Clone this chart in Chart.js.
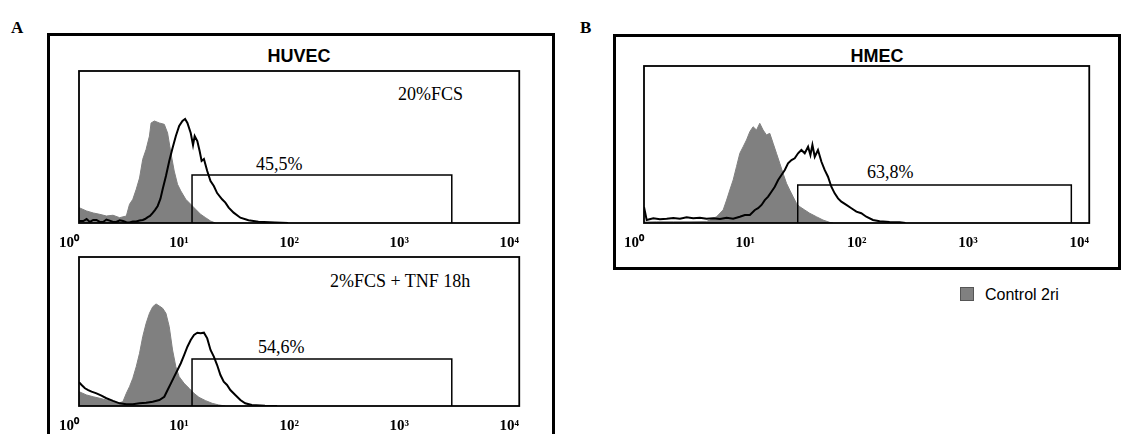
<!DOCTYPE html>
<html><head><meta charset="utf-8">
<script src="https://cdn.jsdelivr.net/npm/chart.js@4.4.1/dist/chart.umd.min.js"></script>
<style>
html,body{margin:0;padding:0;background:#fff;}
body{width:1123px;height:434px;position:relative;overflow:hidden;}
.abs{position:absolute;white-space:nowrap;line-height:1;color:#000;}
.serif{font-family:"Liberation Serif","Times New Roman",serif;}
.sans{font-family:"Liberation Sans",Arial,sans-serif;}
.frame{position:absolute;border:3px solid #000;box-sizing:border-box;}
canvas{position:absolute;}
</style></head><body>

<div class="frame" style="left:47px;top:33px;width:508px;height:420px;"></div>
<div class="frame" style="left:613px;top:34px;width:508px;height:236px;"></div>

<div class="abs serif" style="left:11px;top:19px;font-size:17px;font-weight:bold;">A</div>
<div class="abs serif" style="left:580px;top:19px;font-size:17px;font-weight:bold;">B</div>

<div class="abs sans" style="left:299px;top:47px;font-size:18px;font-weight:bold;transform:translateX(-50%);">HUVEC</div>
<div class="abs sans" style="left:877px;top:47px;font-size:18px;font-weight:bold;transform:translateX(-50%);">HMEC</div>

<div class="abs serif" style="left:398px;top:85px;font-size:18px;">20%FCS</div>
<div class="abs serif" style="left:256px;top:155px;font-size:18px;">45,5%</div>
<div class="abs serif" style="left:330px;top:272px;font-size:18px;">2%FCS + TNF 18h</div>
<div class="abs serif" style="left:258px;top:338px;font-size:18px;">54,6%</div>
<div class="abs serif" style="left:867px;top:163px;font-size:18px;">63,8%</div>

<div class="abs" style="left:960px;top:287px;width:14px;height:14px;background:#808080;border:1px solid #555;box-sizing:border-box;"></div>
<div class="abs sans" style="left:985px;top:287px;font-size:16px;">Control 2ri</div>

<canvas id="c1" width="500" height="195" style="left:40px;top:60px;"></canvas>
<canvas id="c2" width="500" height="195" style="left:40px;top:245px;"></canvas>
<canvas id="c3" width="510" height="200" style="left:600px;top:55px;"></canvas>

<script>
// x values: fluorescence intensity in decades (10^x); y values: % of panel height (cell count)
const tickLabels = ['10\u2070','10\u00B9','10\u00B2','10\u00B3','10\u2074'];

// Panel A, HUVEC 20%FCS
const p1CtrlX = [0,0.069,0.129,0.189,0.249,0.309,0.369,0.43,0.459,0.489,0.52,0.55,0.579,0.61,0.64,0.655,0.685,0.73,0.775,0.805,0.835,0.865,0.895,0.925,0.97,1.015,1.06,1.105,1.15,1.195,1.24];
const p1CtrlY = [10.1,7.9,6.6,5.7,4.6,5.1,3.5,4.6,12.3,15.6,22.2,29.6,41.9,48.5,57.2,65.8,67.1,65.8,64.9,59.2,46.1,34.2,25.5,21.1,15.6,12.3,9.0,5.7,3.5,1.3,0];
const p1SmpX = [0,0.039,0.069,0.099,0.129,0.159,0.189,0.219,0.249,0.279,0.309,0.339,0.37,0.4,0.43,0.459,0.49,0.52,0.55,0.579,0.6,0.625,0.645,0.67,0.69,0.715,0.74,0.76,0.79,0.82,0.85,0.88,0.91,0.94,0.964,0.985,1.015,1.036,1.051,1.075,1.096,1.114,1.135,1.165,1.195,1.225,1.255,1.3,1.33,1.36,1.405,1.466,1.54,1.63,1.78,1.9];
const p1SmpY = [1.3,1.3,2.6,0.7,2.0,2.0,0.7,0.7,2.3,1.6,0.7,0.7,1.8,1.3,0.5,0.3,1.0,1.0,1.6,2.0,2.6,3.9,4.6,6.6,8.5,11.2,16.0,22.2,30.9,40.8,49.3,57.2,63.8,67.1,68.4,65.8,59.2,51.3,57.2,53.9,47.4,40.8,42.1,34.2,27.6,24.3,19.7,15.6,13.4,10.1,6.8,3.5,1.8,0.9,0.3,0];
const p1Gate = [1.027, 3.387, 31.6];

// Panel A, HUVEC 2%FCS + TNF 18h
const p2CtrlX = [0,0.069,0.129,0.189,0.249,0.309,0.369,0.399,0.43,0.459,0.489,0.52,0.55,0.579,0.61,0.64,0.67,0.7,0.73,0.76,0.79,0.82,0.85,0.88,0.91,0.955,1.0,1.045,1.09,1.15,1.21,1.27,1.33];
const p2CtrlY = [9.6,7.4,6.2,5.2,4.0,2.9,2.2,2.9,8.5,13.0,18.6,26.4,35.4,46.5,55.5,62.2,66.6,68.5,67.1,65.6,62.2,53.2,37.6,26.4,19.7,15.2,11.9,8.5,5.8,3.6,1.8,0.7,0];
const p2SmpX = [0,0.024,0.054,0.084,0.114,0.159,0.204,0.249,0.309,0.369,0.43,0.489,0.55,0.61,0.67,0.73,0.775,0.805,0.835,0.865,0.895,0.925,0.955,0.985,1.015,1.045,1.075,1.105,1.135,1.165,1.195,1.225,1.255,1.285,1.315,1.345,1.375,1.42,1.466,1.51,1.57,1.69,1.8];
const p2SmpY = [16,14.1,11.9,10.7,9.6,8.5,6.9,5.2,3.4,1.8,1.1,1.1,1.8,2.2,2.9,4.0,6.2,10.7,15.2,19.7,24.2,28.7,34.2,39.8,44.3,47.7,49.2,48.8,49.2,45.4,37.6,33.1,27.5,20.8,16.3,14.1,10.7,7.4,4.0,1.8,0.7,0.2,0];
const p2Gate = [1.027, 3.387, 31.5];

// Panel B, HMEC
const pbCtrlX = [0,0.114,0.263,0.413,0.562,0.592,0.652,0.711,0.742,0.771,0.801,0.831,0.861,0.891,0.921,0.951,0.98,1.011,1.04,1.07,1.1,1.13,1.16,1.19,1.22,1.249,1.28,1.309,1.339,1.37,1.399,1.444,1.489,1.549,1.608,1.668,1.698];
const pbCtrlY = [0.6,0.8,0.8,0.8,1.0,1.9,4.0,8.3,14.6,21.0,27.4,35.9,44.4,48.6,52.9,58.2,61.3,59.2,63.5,59.2,56.1,57.1,50.8,44.4,38.0,31.7,25.3,21.0,16.8,12.5,10.4,8.3,6.2,4.0,1.9,0.4,0];
const pbSmpX = [0,0.024,0.084,0.143,0.204,0.263,0.323,0.383,0.442,0.502,0.562,0.622,0.682,0.742,0.801,0.861,0.906,0.951,0.996,1.025,1.056,1.085,1.115,1.145,1.175,1.205,1.235,1.265,1.294,1.325,1.354,1.384,1.414,1.444,1.474,1.495,1.513,1.534,1.563,1.594,1.623,1.653,1.683,1.713,1.743,1.773,1.818,1.863,1.908,1.952,1.997,2.057,2.117,2.206,2.296,2.35];
const pbSmpY = [10.2,1.9,3.0,2.4,2.7,3.2,2.7,3.6,3.0,3.4,2.7,3.0,2.5,3.4,2.7,4.0,5.1,5.1,8.3,9.4,11.5,14.6,16.8,19.9,23.1,27.4,30.6,33.8,38.0,40.1,41.2,44.4,46.5,44.4,48.6,43.3,49.7,42.2,46.5,39.0,33.8,29.5,23.1,18.9,15.7,13.6,11.5,9.4,7.2,6.2,4.0,1.9,1.1,0.6,0.4,0];
const pbGate = [1.381, 3.839, 24.2];

const pts = (xs, ys) => xs.map((x, i) => ({x: x, y: ys[i]}));
const gatePts = g => [{x:g[0],y:0},{x:g[0],y:g[2]},{x:g[1],y:g[2]},{x:g[1],y:0}];

const boxPlugin = {
  id: 'box',
  afterDatasetsDraw(chart) {
    const a = chart.chartArea, c = chart.ctx;
    c.save();
    c.strokeStyle = '#000';
    c.lineWidth = 1.8;
    c.strokeRect(a.left, a.top, a.right - a.left, a.bottom - a.top);
    c.restore();
  }
};

function makeHist(id, cx, cy, sx, sy, gate, pad) {
  new Chart(document.getElementById(id), {
    type: 'line',
    data: {
      datasets: [
        {label: 'sample', data: pts(sx, sy), borderColor: '#000', borderWidth: 2, pointRadius: 0, fill: false, tension: 0, order: 1},
        {label: 'gate', data: gatePts(gate), borderColor: '#000', borderWidth: 1.5, pointRadius: 0, fill: false, tension: 0, order: 2},
        {label: 'Control 2ri', data: pts(cx, cy), borderColor: '#808080', backgroundColor: '#808080', borderWidth: 1, pointRadius: 0, fill: 'origin', tension: 0, order: 3}
      ]
    },
    options: {
      responsive: false,
      animation: false,
      devicePixelRatio: 1,
      layout: {padding: pad},
      plugins: {legend: {display: false}, tooltip: {enabled: false}},
      scales: {
        x: {
          type: 'linear', min: 0, max: 4,
          grid: {display: false, drawTicks: false},
          border: {display: false},
          ticks: {
            stepSize: 1, autoSkip: false, maxRotation: 0, padding: 11, labelOffset: -10, color: '#000',
            font: {family: '"Liberation Serif", "Times New Roman", serif', size: 15, weight: 'bold'},
            callback: v => tickLabels[v]
          },
          afterFit: s => { s.height = 24; }
        },
        y: {display: false, min: 0, max: 100}
      }
    },
    plugins: [boxPlugin]
  });
}

makeHist('c1', p1CtrlX, p1CtrlY, p1SmpX, p1SmpY, p1Gate, {left: 39, right: 17, top: 11, bottom: 8});
makeHist('c2', p2CtrlX, p2CtrlY, p2SmpX, p2SmpY, p2Gate, {left: 39, right: 17, top: 12, bottom: 10});
makeHist('c3', pbCtrlX, pbCtrlY, pbSmpX, pbSmpY, pbGate, {left: 44, right: 20, top: 11, bottom: 8});
</script>
</body></html>
